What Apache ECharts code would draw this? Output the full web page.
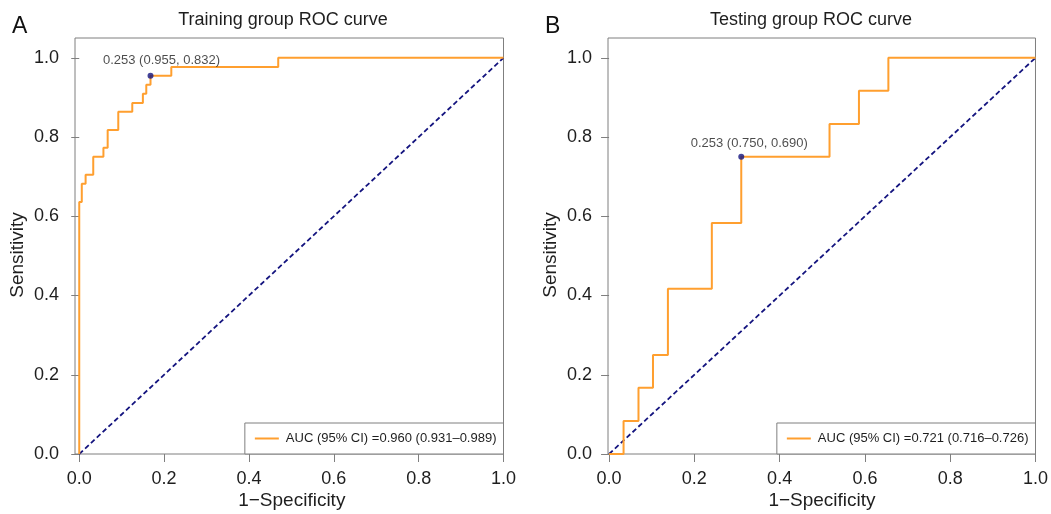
<!DOCTYPE html>
<html>
<head>
<meta charset="utf-8">
<script src="https://cdn.jsdelivr.net/npm/echarts@6/dist/echarts.min.js"></script>
<style>
	html, body { margin: 0; padding: 0; background: #fff; }
	#chart { width: 1051px; height: 514px; }
</style>
</head>
<body>
<div id="chart"></div>
<script>
// training group roc points (1-specificity, sensitivity)
var trainFpr = [0, 0, 0.006, 0.015, 0.033, 0.057, 0.067, 0.092, 0.125, 0.150, 0.158, 0.168, 0.217, 0.469, 1.0];
var trainTpr = [0, 0.636, 0.682, 0.705, 0.750, 0.773, 0.818, 0.864, 0.886, 0.909, 0.932, 0.955, 0.977, 1.0, 1.0];
// testing group roc points
var testFpr = [0, 0.034, 0.069, 0.103, 0.138, 0.241, 0.310, 0.517, 0.586, 0.655, 1.0];
var testTpr = [0, 0.083, 0.167, 0.25, 0.417, 0.583, 0.75, 0.833, 0.917, 1.0, 1.0];
// best cut-off points
var trainBest = [0.168, 0.955];
var testBest = [0.310, 0.750];
var trainBestText = '0.253 (0.955, 0.832)';
var testBestText = '0.253 (0.750, 0.690)';
var trainAuc = 'AUC (95% CI) =0.960 (0.931–0.989)';
var testAuc = 'AUC (95% CI) =0.721 (0.716–0.726)';
var tickValues = [0, 0.2, 0.4, 0.6, 0.8, 1.0];
var chanceLine = [[0, 0], [1, 1]];

var font = "'Liberation Sans', Arial, Helvetica, sans-serif";
var orange = '#ff9f2f';
var navy = '#14147f';
var boxColor = '#7f7f7f';
var textColor = '#1e1e1e';

function toPairs(xs, ys) {
	var arr = [];
	for(var i = 0; i < xs.length; i++) {
		arr.push([xs[i], ys[i]]);
	}
	return arr;
}

//坐标轴
function makeAxis(idx, min, max) {
	return {
		type: 'value',
		gridIndex: idx,
		min: min,
		max: max,
		axisLine: { show: false },
		splitLine: { show: false },
		axisTick: { show: true, length: 8, customValues: tickValues, lineStyle: { color: boxColor } },
		axisLabel: {
			customValues: tickValues,
			margin: 16,
			fontSize: 18,
			fontFamily: font,
			color: textColor,
			formatter: function(v) { return v.toFixed(1); }
		}
	};
}

function rocSeries(idx, name, xs, ys) {
	return {
		name: name,
		type: 'line',
		xAxisIndex: idx,
		yAxisIndex: idx,
		step: 'end',
		symbol: 'none',
		clip: false,
		data: toPairs(xs, ys),
		lineStyle: { color: orange, width: 2 },
		itemStyle: { color: orange },
		z: 3
	};
}

function diagSeries(idx) {
	return {
		type: 'line',
		xAxisIndex: idx,
		yAxisIndex: idx,
		symbol: 'none',
		silent: true,
		data: chanceLine,
		lineStyle: { color: navy, width: 1.8, type: [5, 3] },
		z: 2
	};
}

function bestSeries(idx, pt, text, offset) {
	return {
		type: 'scatter',
		xAxisIndex: idx,
		yAxisIndex: idx,
		symbol: 'circle',
		symbolSize: 6,
		data: [pt],
		itemStyle: { color: navy },
		label: {
			show: true,
			position: 'top',
			offset: offset,
			formatter: text,
			fontSize: 13,
			fontFamily: font,
			color: textColor
		},
		z: 4
	};
}

function makeLegend(name, right) {
	return {
		data: [{ name: name, icon: 'rect' }],
		right: right,
		bottom: 60,
		orient: 'vertical',
		itemWidth: 24,
		itemHeight: 2,
		itemGap: 0,
		padding: [9, 7, 9, 10],
		borderColor: boxColor,
		borderWidth: 1,
		borderRadius: 0,
		backgroundColor: '#fff',
		textStyle: { fontSize: 13, fontFamily: font, color: textColor, padding: [0, 0, 0, 2] },
		selectedMode: false
	};
}

function label(text, x, y, size, rot) {
	return {
		type: 'text',
		x: x,
		y: y,
		rotation: rot || 0,
		style: {
			text: text,
			fontSize: size,
			fontFamily: font,
			fill: textColor,
			align: 'center',
			verticalAlign: 'middle'
		}
	};
}

var chart = echarts.init(document.getElementById('chart'), null, { renderer: 'canvas' });
chart.setOption({
	backgroundColor: '#fff',
	animation: false,
	grid: [
		{ left: 75, top: 38, width: 428.5, height: 416, show: true, borderColor: boxColor, borderWidth: 1, backgroundColor: 'transparent' },
		{ left: 608, top: 38, width: 427.5, height: 416, show: true, borderColor: boxColor, borderWidth: 1, backgroundColor: 'transparent' }
	],
	xAxis: [makeAxis(0, -0.01, 1), makeAxis(1, -0.0025, 1)],
	yAxis: [makeAxis(0, 0, 1.05), makeAxis(1, 0, 1.05)],
	legend: [makeLegend(trainAuc, 547.5), makeLegend(testAuc, 15.5)],
	series: [
		diagSeries(0),
		rocSeries(0, trainAuc, trainFpr, trainTpr),
		bestSeries(0, trainBest, trainBestText, [11, -1]),
		diagSeries(1),
		rocSeries(1, testAuc, testFpr, testTpr),
		bestSeries(1, testBest, testBestText, [8, 1])
	],
	graphic: [
		{ type: 'text', left: 12, top: 15, style: { text: 'A', fontSize: 23, fontFamily: font, fill: '#111' } },
		{ type: 'text', left: 545, top: 15, style: { text: 'B', fontSize: 23, fontFamily: font, fill: '#111' } },
		label('Training group ROC curve', 283, 20, 18),
		label('Testing group ROC curve', 811, 20, 18),
		label('Sensitivity', 17.5, 255, 19, Math.PI / 2),
		label('Sensitivity', 550.5, 255, 19, Math.PI / 2),
		label('1−Specificity', 291.8, 501, 19),
		label('1−Specificity', 822, 501, 19)
	]
});
</script>
</body>
</html>
